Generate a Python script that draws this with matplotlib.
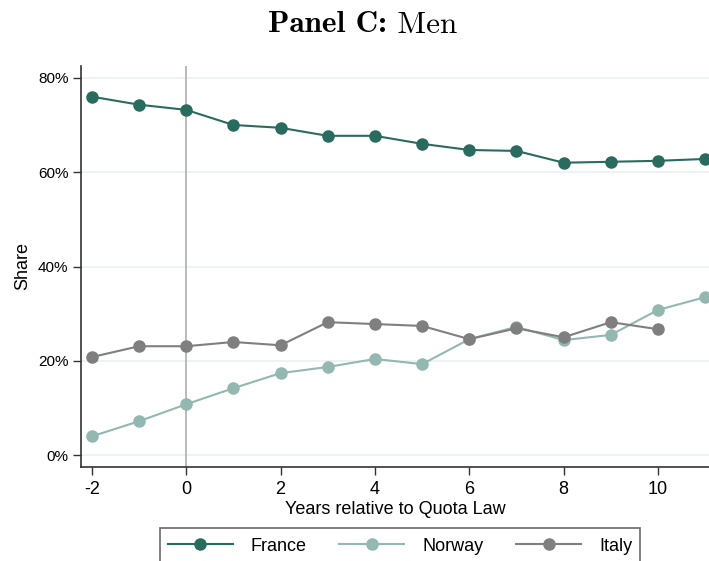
import matplotlib
matplotlib.use("Agg")
import matplotlib.pyplot as plt
from matplotlib.ticker import FuncFormatter

years = [-2, -1, 0, 1, 2, 3, 4, 5, 6, 7, 8, 9, 10, 11]
france = [76.0, 74.3, 73.2, 70.0, 69.4, 67.7, 67.7, 66.0, 64.7, 64.5, 62.0, 62.2, 62.4, 62.8]
norway = [4.0, 7.2, 10.8, 14.2, 17.4, 18.7, 20.4, 19.3, 24.6, 27.2, 24.4, 25.5, 30.8, 33.5]
italy_years = [-2, -1, 0, 1, 2, 3, 4, 5, 6, 7, 8, 9, 10]
italy = [20.8, 23.1, 23.1, 24.0, 23.3, 28.2, 27.8, 27.4, 24.6, 26.9, 25.0, 28.2, 26.7]
yticks = [0, 20, 40, 60, 80]
xticks = [-2, 0, 2, 4, 6, 8, 10]

plt.rcParams['font.family'] = ['Liberation Sans', 'DejaVu Sans']
plt.rcParams['axes.unicode_minus'] = False

fig = plt.figure(figsize=(7.09, 5.61), dpi=100)
ax = fig.add_axes([81/709, 1-467/561, 1-81/709, (467-66)/561])

for y in yticks:
    ax.axhline(y, color='#eaf0f2', lw=1.2, zorder=0)
ax.axvline(0, color='#b4b4b4', lw=1.3, zorder=1)

c_fr, c_no, c_it = '#2a6b5f', '#93b7b1', '#7f7f7f'
ax.plot(years, france, '-o', color=c_fr, ms=8, lw=1.5, label='France', zorder=3, clip_on=False)
ax.plot(years, norway, '-o', color=c_no, ms=8, lw=1.5, label='Norway', zorder=3, clip_on=False)
ax.plot(italy_years, italy, '-o', color=c_it, ms=8, lw=1.5, label='Italy', zorder=4, clip_on=False)

ax.set_xlim(-2.23, 11.08)
ax.set_ylim(-2.5, 82.5)
ax.set_yticks(yticks)
ax.set_xticks(xticks)
ax.yaxis.set_major_formatter(FuncFormatter(lambda v, p: f"{int(v)}%"))
ax.tick_params(axis='both', length=6, width=1, color='#333333')
ax.tick_params(axis='x', labelsize=13, pad=4)
ax.tick_params(axis='y', labelsize=11, pad=3)
for s in ['top', 'right']:
    ax.spines[s].set_visible(False)
for s in ['left', 'bottom']:
    ax.spines[s].set_color('#333333')
    ax.spines[s].set_linewidth(1.2)

ax.set_xlabel('Years relative to Quota Law', fontsize=13, labelpad=2)
ax.set_ylabel('Share', fontsize=13, labelpad=5)

t1 = fig.text(0.5, 1-25/561, 'Panel C:', ha='right', va='center', fontsize=22.5,
              family=['cmb10', 'DejaVu Serif'])
t2 = fig.text(0.5, 1-25/561, ' Men', ha='left', va='center', fontsize=22.5,
              family=['cmr10', 'DejaVu Serif'])
fig.canvas.draw()
r = fig.canvas.get_renderer()
w1 = t1.get_window_extent(r).width
w2 = t2.get_window_extent(r).width
cx = 363.0
split = cx - (w1 + w2) / 2 + w1
t1.set_x(split / 709)
t2.set_x(split / 709)

leg = fig.legend(loc='upper center', bbox_to_anchor=(400/709, 1-528/561), ncol=3,
                 fontsize=13, frameon=True, fancybox=False, handlelength=3.6,
                 handleheight=1.2, columnspacing=1.8, borderpad=0.45,
                 handletextpad=1.0, borderaxespad=0)
leg.get_frame().set_edgecolor('#444444')
leg.get_frame().set_linewidth(1.2)

fig.savefig('out.png', dpi=100)
